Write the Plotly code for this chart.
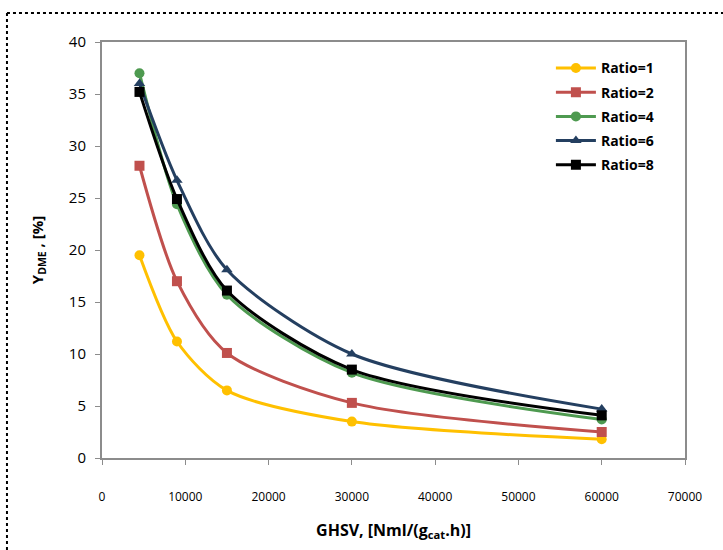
import plotly.graph_objects as go

ghsv = [4500, 9000, 15000, 30000, 60000]
ratio1 = [19.5, 11.2, 6.5, 3.5, 1.8]
ratio2 = [28.1, 17.0, 10.1, 5.3, 2.5]
ratio4 = [37.0, 24.4, 15.7, 8.2, 3.7]
ratio6 = [36.0, 26.7, 18.1, 10.0, 4.7]
ratio8 = [35.2, 24.9, 16.1, 8.5, 4.1]

series = [
    ("Ratio=1", ratio1, "#FFC000", "circle"),
    ("Ratio=2", ratio2, "#C0504D", "square"),
    ("Ratio=4", ratio4, "#4E9A50", "circle"),
    ("Ratio=6", ratio6, "#243F60", "triangle-up"),
    ("Ratio=8", ratio8, "#000000", "square"),
]

fig = go.Figure()
for name, vals, col, sym in series:
    fig.add_trace(go.Scatter(
        x=ghsv, y=vals, name="<b>" + name + "</b>", legendgroup=name,
        mode="lines+markers",
        line=dict(color=col, width=3, shape="spline", smoothing=0.8),
        marker=dict(color=col, symbol=sym, size=10),
    ))

axis_common = dict(
    showline=True, linecolor="#8c8c8c", linewidth=2, mirror=True,
    ticks="outside", tickcolor="#8c8c8c", ticklen=5, tickwidth=1,
    showgrid=False, zeroline=False,
)

fig.update_layout(
    width=723, height=550,
    margin=dict(l=102, r=38, t=42, b=92),
    paper_bgcolor="white", plot_bgcolor="white",
    font=dict(family="Open Sans, Liberation Sans, sans-serif", color="#000"),
    xaxis=dict(range=[0, 70000], dtick=10000, tickformat="d",
               tickfont=dict(size=12), ticklabelstandoff=22,
               title=dict(text="<b>GHSV, [Nml/(g<sub>cat</sub>.h)]</b>",
                          font=dict(size=16), standoff=20),
               **axis_common),
    yaxis=dict(range=[0, 40], dtick=5, tickfont=dict(size=15),
               ticklabelstandoff=6,
               title=dict(text="<b>Y<sub>DME</sub> , [%]</b>",
                          font=dict(size=15), standoff=22),
               **axis_common),
    showlegend=True,
    legend=dict(x=0.77, y=0.975, xanchor="left", yanchor="top",
                bgcolor="rgba(0,0,0,0)", font=dict(size=14, family="Open Sans, sans-serif"),
                tracegroupgap=3, itemwidth=40),
)

fig.add_shape(type="line", xref="paper", yref="paper",
              x0=-0.163, y0=1.07, x1=1.2, y1=1.07,
              line=dict(color="black", width=2, dash="dot"))
fig.add_shape(type="line", xref="paper", yref="paper",
              x0=-0.163, y0=1.07, x1=-0.163, y1=-0.3,
              line=dict(color="black", width=2, dash="dot"))

fig.write_html("out.html")
